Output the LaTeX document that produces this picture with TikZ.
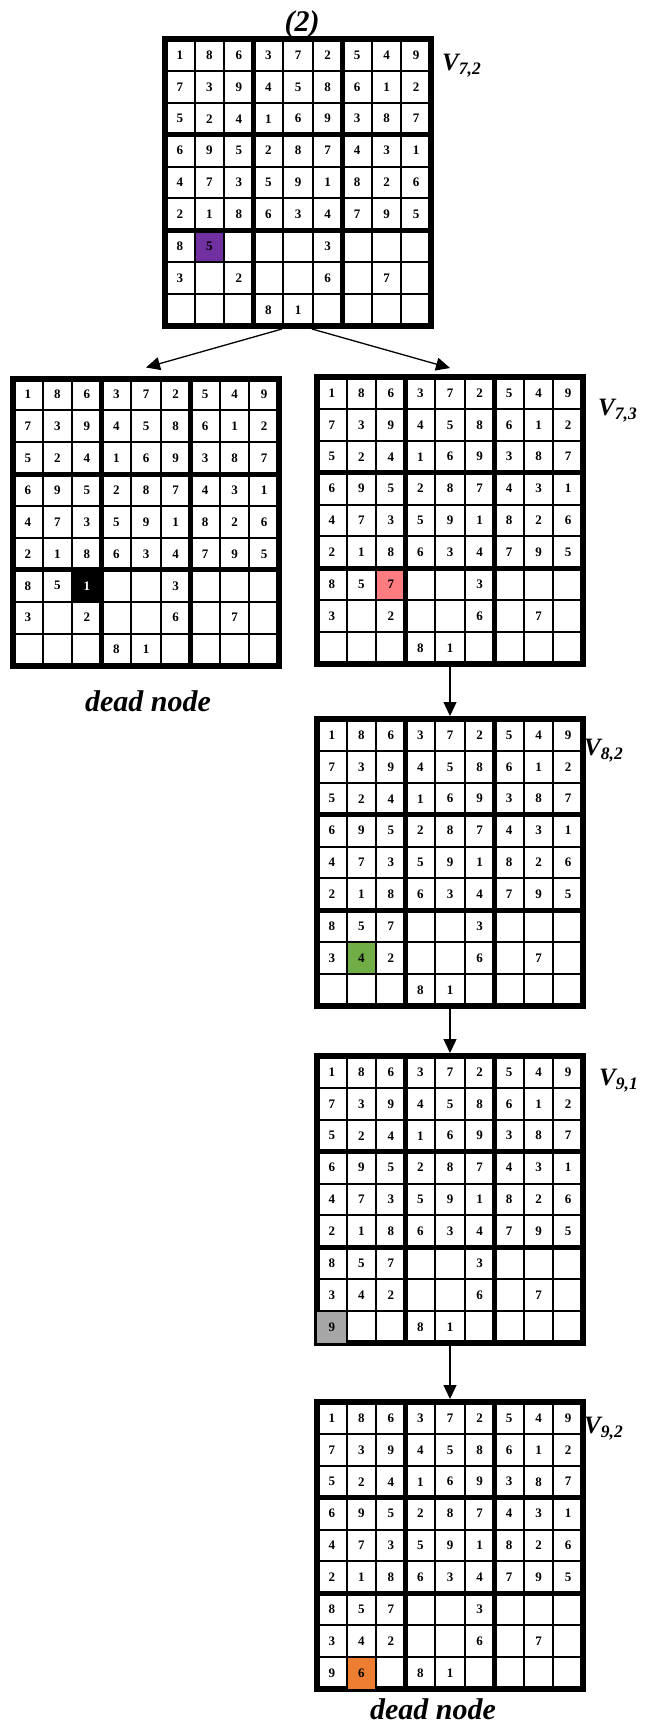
\documentclass[tikz,border=0pt]{standalone}
\usepackage{fontspec}
\setmainfont{Liberation Serif}
\usetikzlibrary{arrows.meta, calc, positioning}

\definecolor{cellpurple}{HTML}{7030A0}
\definecolor{cellpink}{HTML}{FF7C80}
\definecolor{cellgreen}{HTML}{70AD47}
\definecolor{cellgrey}{HTML}{A6A6A6}
\definecolor{cellorange}{HTML}{ED7D31}

% cell size of a board (board is 266 x 287)
\def\cellw{29.556}
\def\cellh{31.889}

% grid lines and digits of one board; rows 1-6 are the same on every board
% #1 = board node, #2 = rows 7 to 9
\newcommand{\sudokuboard}[2]{%
  \begin{scope}[shift={(#1.center)}]
    \foreach \i in {1,2,4,5,7,8} {
      \draw[thinline] ({(\i-4.5)*\cellw},-143.5) -- ({(\i-4.5)*\cellw},143.5);
      \draw[thinline] (-133,{(\i-4.5)*\cellh}) -- (133,{(\i-4.5)*\cellh});
    }
    \foreach \i in {3,6} {
      \draw[boxline] ({(\i-4.5)*\cellw},-143.5) -- ({(\i-4.5)*\cellw},143.5);
      \draw[boxline] (-133,{(\i-4.5)*\cellh}) -- (133,{(\i-4.5)*\cellh});
    }
    \foreach \row [count=\r] in {{1,8,6,3,7,2,5,4,9},{7,3,9,4,5,8,6,1,2},
        {5,2,4,1,6,9,3,8,7},{6,9,5,2,8,7,4,3,1},{4,7,3,5,9,1,8,2,6},
        {2,1,8,6,3,4,7,9,5},#2} {
      \foreach \d [count=\c] in \row
        \node[digit] at ({(\c-5)*\cellw},{(\r-5)*\cellh}) {\d};
    }
  \end{scope}
}

% coloured cell: #1 board, #2 column, #3 row, #4 fill, #5 text colour, #6 digit
\newcommand{\markcell}[6]{%
  \begin{scope}[shift={(#1.center)}]
    \fill[#4] ({(#2-5.5)*\cellw},{(#3-5.5)*\cellh}) rectangle ({(#2-4.5)*\cellw},{(#3-4.5)*\cellh});
    \node[digit, text=#5] at ({(#2-5)*\cellw},{(#3-5)*\cellh}) {#6};
  \end{scope}
}

\begin{document}
\begin{tikzpicture}[
    x=1pt, y=-1pt,
    board/.style={draw, line width=6pt, minimum width=266pt, minimum height=287pt, inner sep=0pt},
    thinline/.style={line width=2pt},
    boxline/.style={line width=5pt},
    digit/.style={font=\fontsize{13}{13}\selectfont\bfseries, inner sep=0pt},
    vlabel/.style={font=\fontsize{25}{27}\selectfont\bfseries\itshape, anchor=west, inner sep=0pt},
    deadlbl/.style={font=\fontsize{30}{32}\selectfont\bfseries\itshape, inner sep=0pt},
    flow/.style={-{Triangle[width=13pt,length=14pt]}, line width=1.3pt},
]
\useasboundingbox (0,0) rectangle (651,1727);

% boards: the root on top, two children, then the chain on the right
\node[board] (v72)  at (298,182.5)  {};
\node[board] (dead) at (146,522)    {};
\node[board] (v73)  at (450,520.5)  {};
\node[board] (v82)  at (450,862.5)  {};
\node[board] (v91)  at (450,1199.5) {};
\node[board] (v92)  at (450,1545.5) {};

% the value tried in each board
\markcell{v72}{2}{7}{cellpurple}{black}{5}
\markcell{dead}{3}{7}{black}{white}{1}
\markcell{v73}{3}{7}{cellpink}{black}{7}
\markcell{v82}{2}{8}{cellgreen}{black}{4}
\markcell{v91}{1}{9}{cellgrey}{black}{9}
\markcell{v92}{2}{9}{cellorange}{black}{6}

\sudokuboard{v72}{{8,,,,,3,,,},{3,,2,,,6,,7,},{,,,8,1,,,,}}
\sudokuboard{dead}{{8,5,,,,3,,,},{3,,2,,,6,,7,},{,,,8,1,,,,}}
\sudokuboard{v73}{{8,5,,,,3,,,},{3,,2,,,6,,7,},{,,,8,1,,,,}}
\sudokuboard{v82}{{8,5,7,,,3,,,},{3,,2,,,6,,7,},{,,,8,1,,,,}}
\sudokuboard{v91}{{8,5,7,,,3,,,},{3,4,2,,,6,,7,},{,,,8,1,,,,}}
\sudokuboard{v92}{{8,5,7,,,3,,,},{3,4,2,,,6,,7,},{9,,,8,1,,,,}}

% labels
\node[deadlbl] (step) at (302,24) {(2)};
\node[vlabel] (l72) at (442,66)   {V\textsubscript{7,2}};
\node[vlabel] (l73) at (598,411)  {V\textsubscript{7,3}};
\node[vlabel] (l82) at (584,751)  {V\textsubscript{8,2}};
\node[vlabel] (l91) at (599,1081) {V\textsubscript{9,1}};
\node[vlabel] (l92) at (584,1429) {V\textsubscript{9,2}};
\node[deadlbl] (d1) at (148,701)  {dead node};
\node[deadlbl] (d2) at (433,1709) {dead node};

% search arrows
\draw[flow] ([xshift=-16pt]v72.south) -- ([yshift=8pt]dead.north);
\draw[flow] ([xshift=14pt]v72.south)  -- ([yshift=6pt]v73.north);
\draw[flow] (v73) -- (v82);
\draw[flow] (v82) -- (v91);
\draw[flow] (v91) -- (v92);
\end{tikzpicture}
\end{document}
